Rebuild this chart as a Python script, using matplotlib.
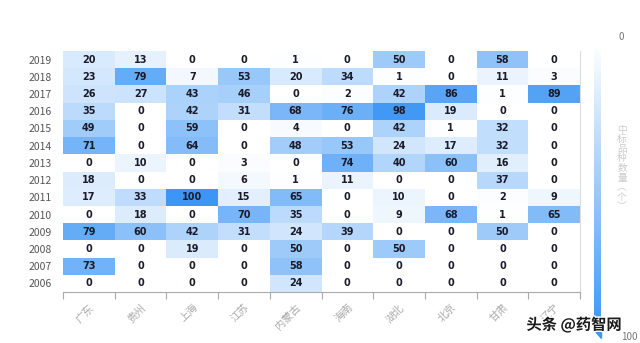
import numpy as np
import matplotlib.pyplot as plt
import matplotlib.patheffects as pe
from matplotlib.colors import LinearSegmentedColormap
from matplotlib.patches import Polygon

plt.rcParams['font.family'] = ['Noto Sans CJK SC', 'DejaVu Sans']

provinces = ['广东', '贵州', '上海', '江苏', '内蒙古', '海南', '湖北', '北京', '甘肃', '辽宁']
years = ['2019', '2018', '2017', '2016', '2015', '2014', '2013',
         '2012', '2011', '2010', '2009', '2008', '2007', '2006']

# 每行对应一个年份（从2019到2006），每列对应一个省份
counts = [
    [20, 13, 0, 0, 1, 0, 50, 0, 58, 0],
    [23, 79, 7, 53, 20, 34, 1, 0, 11, 3],
    [26, 27, 43, 46, 0, 2, 42, 86, 1, 89],
    [35, 0, 42, 31, 68, 76, 98, 19, 0, 0],
    [49, 0, 59, 0, 4, 0, 42, 1, 32, 0],
    [71, 0, 64, 0, 48, 53, 24, 17, 32, 0],
    [0, 10, 0, 3, 0, 74, 40, 60, 16, 0],
    [18, 0, 0, 6, 1, 11, 0, 0, 37, 0],
    [17, 33, 100, 15, 65, 0, 10, 0, 2, 9],
    [0, 18, 0, 70, 35, 0, 9, 68, 1, 65],
    [79, 60, 42, 31, 24, 39, 0, 0, 50, 0],
    [0, 0, 19, 0, 50, 0, 50, 0, 0, 0],
    [73, 0, 0, 0, 58, 0, 0, 0, 0, 0],
    [0, 0, 0, 0, 24, 0, 0, 0, 0, 0],
]
vmin, vmax = 0, 100

cmap = LinearSegmentedColormap.from_list('blues', ['#ffffff', '#3d96f5'])
data = np.array(counts)

fig = plt.figure(figsize=(6.4, 3.43), dpi=100)
ax = fig.add_axes([63 / 640, 1 - 292 / 343, 517 / 640, 241 / 343])

n_rows, n_cols = data.shape
ax.pcolormesh(np.arange(n_cols + 1), np.arange(n_rows + 1), data[::-1],
              cmap=cmap, vmin=vmin, vmax=vmax, shading='flat')
ax.set_xlim(0, n_cols)
ax.set_ylim(0, n_rows)

for i in range(n_rows):
    for j in range(n_cols):
        ax.text(j + 0.5, n_rows - i - 0.5, str(counts[i][j]), ha='center', va='center',
                fontsize=7, fontweight='bold', color='#1b1b2a', family='DejaVu Sans')

# 坐标轴
ax.set_yticks(np.arange(n_rows) + 0.5)
ax.set_yticklabels(years[::-1], fontsize=7.5, color='#555555')
ax.tick_params(axis='y', length=0, pad=8)
ax.set_xticks(np.arange(n_cols + 1), minor=False)
ax.set_xticklabels([])
ax.tick_params(axis='x', length=5, color='#aaaaaa', width=0.8)
for j, name in enumerate(provinces):
    ax.text(j + 0.5, -0.6, name, rotation=45, ha='right', va='top',
            fontsize=7.5, color='#aaaaaa', rotation_mode='anchor')

for side in ['top', 'left']:
    ax.spines[side].set_visible(False)
ax.spines['bottom'].set_color('#aaaaaa')
ax.spines['right'].set_color('#dddddd')
ax.spines['bottom'].set_linewidth(0.8)
ax.spines['right'].set_linewidth(0.8)

# 右侧渐变色条
cax = fig.add_axes([594 / 640, 1 - 330 / 343, 7 / 640, 285 / 343])
grad = np.linspace(vmin, vmax, 256).reshape(-1, 1)
cax.imshow(grad, aspect='auto', cmap=cmap, vmin=vmin, vmax=vmax,
           extent=[0, 1, vmax, vmin])
cax.axis('off')
fig.patches.append(Polygon([[594 / 640, 1 - 330 / 343], [601 / 640, 1 - 330 / 343],
                            [601 / 640, 1 - 338 / 343]], closed=True,
                           transform=fig.transFigure, color='#3d96f5'))

fig.text(621 / 640, 1 - 37 / 343, str(vmin), fontsize=7, color='#777777', ha='center', va='center')
fig.text(629 / 640, 1 - 337 / 343, str(vmax), fontsize=7, color='#777777', ha='center', va='center')
fig.text(622 / 640, 1 - 168 / 343, '\n'.join('中标品种数量︵个︶'), fontsize=7,
         color='#cccccc', ha='center', va='center', linespacing=0.95)

fig.text(574 / 640, 1 - 325 / 343, '头条 @药智网', fontsize=11, color='#1a1a1a',
         ha='center', va='center', fontweight='bold',
         path_effects=[pe.withStroke(linewidth=2, foreground='white')])

fig.savefig('out.png', dpi=100)
